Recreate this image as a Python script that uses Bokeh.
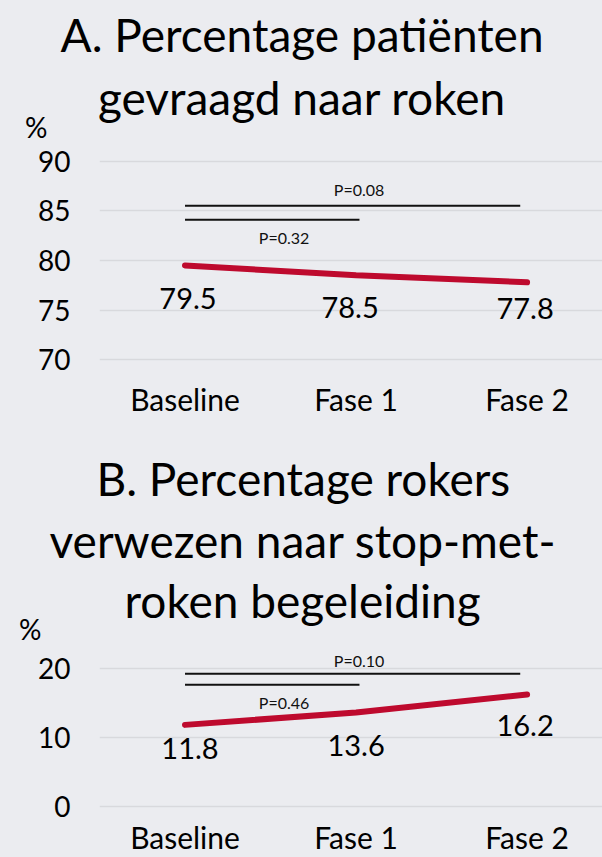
from bokeh.plotting import figure
from bokeh.layouts import column
from bokeh.models import Title, FixedTicker, Range1d, ColumnDataSource, LinearAxis
from bokeh.core.properties import value
from bokeh.embed import file_html
from bokeh.resources import INLINE

# ---------------- data ----------------
categories = ["Baseline", "Fase 1", "Fase 2"]
a_values = [79.5, 78.5, 77.8]
b_values = [11.8, 13.6, 16.2]
a_ticks = [70, 75, 80, 85, 90]
b_ticks = [0, 10, 20]
unit_label = "%"
a_title = ["A. Percentage patiënten", "gevraagd naar roken"]
b_title = ["B. Percentage rokers", "verwezen naar stop-met-", "roken begeleiding"]
# p-value brackets
a_p_labels = ["P=0.08", "P=0.32"]
a_p_from = [0, 0]
a_p_to = [1.96, 1.02]
a_p_level = [85.5, 84.1]
b_p_labels = ["P=0.10", "P=0.46"]
b_p_from = [0, 0]
b_p_to = [1.96, 1.02]
b_p_level = [19.2, 17.6]

# ---------------- style / layout ----------------
BG = "#EBECF0"
GRID = "#D8D9DD"
RED = "#BE0A2E"
FONT = "Lato"
W = 602


def make_panel(title_lines, title_offsets, title_standoffs, vals, ticks, yr, unit_y,
               unit_standoff, height, top, bottom, xstandoff,
               p_labels, p_from, p_to, p_level, p_text_pos, label_dx, label_dy):
    p = figure(width=W, height=height, output_backend="svg", toolbar_location=None,
               x_range=Range1d(-0.5, 2.441), y_range=Range1d(*yr),
               min_border_left=99, min_border_right=0, min_border_top=top,
               min_border_bottom=bottom, title=None)
    p.background_fill_color = BG
    p.border_fill_color = BG
    p.outline_line_color = None
    # titles, nearest to plot first
    for t, off, so in reversed(list(zip(title_lines, title_offsets, title_standoffs))):
        p.add_layout(Title(text=t, align="left", offset=off,
                           text_font=FONT, text_font_size="46px",
                           text_font_style="normal", text_color="#000000",
                           standoff=so), "above")
    # unit label axis ("%") placed left of the value axis
    unit_axis = LinearAxis(ticker=FixedTicker(ticks=[unit_y]),
                           major_label_overrides={unit_y: unit_label})
    p.add_layout(unit_axis, "left")
    p.xgrid.grid_line_color = None
    p.ygrid.grid_line_color = GRID
    p.ygrid.grid_line_width = 1.5
    p.ygrid.ticker = FixedTicker(ticks=ticks)
    p.yaxis[0].ticker = FixedTicker(ticks=ticks)
    p.xaxis.ticker = FixedTicker(ticks=list(range(len(categories))))
    p.xaxis.major_label_overrides = {i: c for i, c in enumerate(categories)}
    for ax in list(p.xaxis) + list(p.yaxis):
        ax.axis_line_color = None
        ax.major_tick_line_color = None
        ax.minor_tick_line_color = None
        ax.major_tick_out = 0
        ax.major_tick_in = 0
        ax.major_label_text_font = FONT
        ax.major_label_text_color = "#000000"
    p.yaxis[0].major_label_text_font_size = "28px"
    p.yaxis[0].major_label_standoff = 29
    unit_axis.major_label_text_font_size = "28px"
    unit_axis.major_label_standoff = unit_standoff
    p.xaxis.major_label_text_font_size = "30px"
    p.xaxis.major_label_standoff = xstandoff

    xs = list(range(len(vals)))
    src = ColumnDataSource(dict(x=xs, y=vals, t=[f"{v:.1f}" for v in vals],
                                dx=label_dx, dy=label_dy))
    # p-value brackets
    p.segment(x0=p_from, x1=p_to, y0=p_level, y1=p_level,
              line_color="#111111", line_width=2)
    p.text(x=[q[0] for q in p_text_pos], y=[q[1] for q in p_text_pos],
           text=p_labels, text_font=value(FONT), text_font_size="16px",
           text_align="center", text_baseline="middle", text_color="#111111")
    # data line
    p.line(x="x", y="y", source=src, line_color=RED, line_width=6, line_cap="round")
    p.text(x="x", y="y", text="t", source=src, x_offset="dx", y_offset="dy",
           text_font=value(FONT), text_font_size="29px", text_align="center",
           text_baseline="middle", text_color="#000000")
    return p


pa = make_panel(a_title, [-39, -1.5], [8, 4], a_values, a_ticks, (68, 93.5), 93.4, -12,
                440, 124, 61, 1,
                a_p_labels, a_p_from, a_p_to, a_p_level,
                [(1.018, 87.1), (0.579, 82.3)], [3, -6, -2], [33, 32, 26])
pb = make_panel(b_title, [-3, -50, 25], [5, 5, 1], b_values, b_ticks, (-1.77, 25.77), 25.75, -6,
                417, 188, 38, 0,
                b_p_labels, b_p_from, b_p_to, b_p_level,
                [(1.018, 21.2), (0.579, 15.1)], [5, 0, -2], [24, 33, 31])

layout = column(pa, pb, spacing=0)
layout.background = BG
open("out.html", "w").write(file_html(layout, INLINE))
